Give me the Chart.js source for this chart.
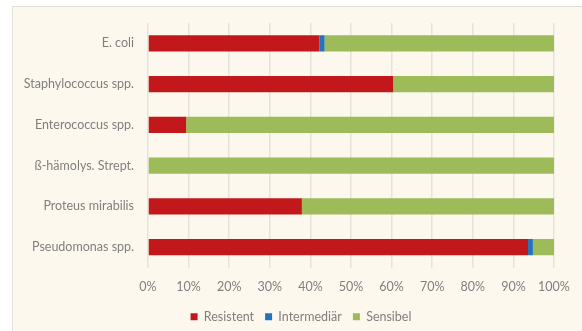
<!DOCTYPE html>
<html>
<head>
<meta charset="utf-8">
<script src="https://cdn.jsdelivr.net/npm/chart.js@4"></script>
<style>
  html, body { margin: 0; padding: 0; background: #ffffff; }
  #wrap { position: relative; width: 582px; height: 331px; overflow: hidden; }
  #frame {
    position: absolute; left: 12px; top: 6px; width: 600px; height: 360px;
    background: #fdf8ee; border: 1px solid #e3e0da;
  }
  #chart { position: absolute; left: 0; top: 0; }
</style>
</head>
<body>
<div id="wrap">
  <div id="frame"></div>
  <canvas id="chart" width="582" height="331"></canvas>
</div>
<script>
// Resistenzlage nach Erreger (Anteile in %)
const categories = [
  'E. coli',
  'Staphylococcus spp.',
  'Enterococcus spp.',
  'ß-hämolys. Strept.',
  'Proteus mirabilis',
  'Pseudomonas spp.'
];
const resistent    = [42.2, 60.4, 9.4, 0, 37.9, 93.6];
const intermediaer = [1.3, 0, 0, 0, 0, 1.2];
const sensibel     = [56.5, 39.6, 90.6, 100, 62.1, 5.2];
const xTicks = [0, 10, 20, 30, 40, 50, 60, 70, 80, 90, 100];

const font = { family: 'Lato, "Open Sans", sans-serif', size: 12.5 };
const labelColor = '#7f7f7f';

// nudge the legend a bit right/down from its default centred spot
const legendShift = {
  id: 'legendShift',
  afterLayout(chart) {
    const lg = chart.legend;
    lg.left += 24; lg.right += 24;
    lg.top += 2; lg.bottom += 2;
  }
};

new Chart(document.getElementById('chart'), {
  type: 'bar',
  data: {
    labels: categories,
    datasets: [
      { label: 'Resistent', data: resistent, backgroundColor: '#c2181b' },
      { label: 'Intermediär', data: intermediaer, backgroundColor: '#2573bb' },
      { label: 'Sensibel', data: sensibel, backgroundColor: '#9dbb59' }
    ]
  },
  plugins: [legendShift],
  options: {
    indexAxis: 'y',
    responsive: false,
    animation: false,
    layout: { padding: { top: 23, right: 28, left: 0, bottom: 0 } },
    datasets: {
      bar: { barPercentage: 0.4, categoryPercentage: 1.0 }
    },
    plugins: {
      tooltip: { enabled: false },
      legend: {
        position: 'bottom',
        labels: {
          font: font,
          color: labelColor,
          boxWidth: 7,
          boxHeight: 7,
          padding: 11
        }
      }
    },
    scales: {
      x: {
        stacked: true,
        min: 0,
        max: 100,
        afterBuildTicks: (scale) => {
          scale.ticks = xTicks.map(v => ({ value: v }));
        },
        afterFit: (scale) => { scale.height = 30; },
        grid: { color: '#e6e2dc', lineWidth: 1.5, drawTicks: false },
        border: { display: false },
        ticks: {
          font: font,
          color: labelColor,
          padding: 12,
          maxRotation: 0,
          callback: (v) => v + '%'
        }
      },
      y: {
        stacked: true,
        afterFit: (scale) => { scale.width = 148; },
        grid: { display: false, drawTicks: false },
        border: { display: false },
        ticks: { font: font, color: labelColor, padding: 14 }
      }
    }
  }
});
</script>
</body>
</html>
